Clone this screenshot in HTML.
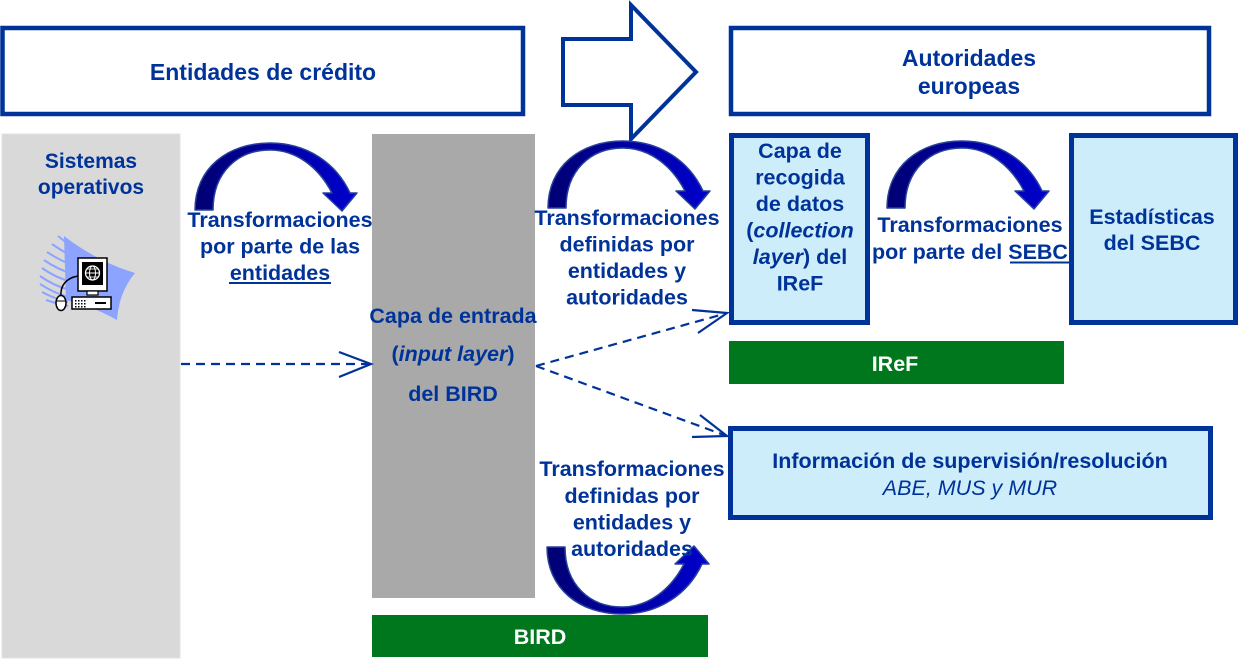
<!DOCTYPE html>
<html>
<head>
<meta charset="utf-8">
<style>
  html, body { margin:0; padding:0; background:#ffffff; }
  body { width:1240px; height:663px; overflow:hidden; }
  svg { display:block; }
  text { font-family: "Liberation Sans", Arial, sans-serif; font-weight:bold; fill:#003399; }
</style>
</head>
<body>
<svg width="1240" height="663" viewBox="0 0 1240 663" xmlns="http://www.w3.org/2000/svg">
  <defs>
    <linearGradient id="ag" x1="0" y1="0" x2="1" y2="0">
      <stop offset="0" stop-color="#000072"/>
      <stop offset="0.5" stop-color="#0000a4"/>
      <stop offset="1" stop-color="#0000cc"/>
    </linearGradient>
  </defs>

  <!-- Top boxes -->
  <rect x="2.5" y="28" width="520.5" height="86" fill="#ffffff" stroke="#003399" stroke-width="4.5"/>
  <text x="263" y="80" font-size="23" text-anchor="middle">Entidades de crédito</text>

  <polygon points="563,39 631,39 631,5 696,72 631,139 631,105 563,105" fill="#ffffff" stroke="#003399" stroke-width="4"/>

  <rect x="731" y="28" width="478" height="86" fill="#ffffff" stroke="#003399" stroke-width="4.5"/>
  <text x="969" y="66" font-size="23" text-anchor="middle">Autoridades</text>
  <text x="969" y="94" font-size="23" text-anchor="middle">europeas</text>

  <!-- Grey panels -->
  <rect x="2" y="134" width="178" height="524" fill="#d9d9d9" stroke="#e2e2e2" stroke-width="1"/>
  <text x="91" y="168" font-size="21" text-anchor="middle">Sistemas</text>
  <text x="91" y="194" font-size="21" text-anchor="middle">operativos</text>

  <rect x="372" y="134" width="163" height="464" fill="#a9a9a9"/>

  <!-- Computer icon -->
  <g>
    <path d="M64,236 Q98,262 135,273 Q119,292 117,320 Q92,306 66,300 Z" fill="#8ca4ff"/>
    <g stroke="#8ca4ff" stroke-width="2" fill="none">
      <path d="M58,236 Q70,246 80,250"/>
      <path d="M52,244 Q66,254 78,258"/>
      <path d="M47,252 Q62,262 76,266"/>
      <path d="M44,260 Q58,270 74,274"/>
      <path d="M42,268 Q56,278 72,282"/>
      <path d="M40,276 Q54,286 70,290"/>
      <path d="M40,284 Q54,293 68,297"/>
      <path d="M42,292 Q55,299 68,302"/>
      <path d="M46,300 Q58,304 68,306"/>
    </g>
    <path d="M78,276 C66,278 60,286 61,296" stroke="#000" stroke-width="1.5" fill="none"/>
    <rect x="78" y="258" width="29" height="33" fill="#ffffff" stroke="#000" stroke-width="1.5"/>
    <rect x="82" y="262" width="21" height="23" fill="#000"/>
    <circle cx="92.5" cy="273" r="7" fill="none" stroke="#fff" stroke-width="1.3"/>
    <ellipse cx="92.5" cy="273" rx="3" ry="7" fill="none" stroke="#fff" stroke-width="1"/>
    <line x1="85.5" y1="273" x2="99.5" y2="273" stroke="#fff" stroke-width="1"/>
    <line x1="87" y1="269" x2="98" y2="269" stroke="#fff" stroke-width="0.8"/>
    <line x1="87" y1="277" x2="98" y2="277" stroke="#fff" stroke-width="0.8"/>
    <rect x="87" y="291" width="11" height="4" fill="#ffffff" stroke="#000" stroke-width="1.2"/>
    <rect x="72" y="297" width="39" height="12" fill="#ffffff" stroke="#000" stroke-width="1.5"/>
    <g fill="#000">
      <rect x="75" y="300" width="1.5" height="1.5"/><rect x="78" y="300" width="1.5" height="1.5"/><rect x="81" y="300" width="1.5" height="1.5"/><rect x="84" y="300" width="1.5" height="1.5"/>
      <rect x="75" y="303" width="1.5" height="1.5"/><rect x="78" y="303" width="1.5" height="1.5"/><rect x="81" y="303" width="1.5" height="1.5"/><rect x="84" y="303" width="1.5" height="1.5"/>
      <rect x="75" y="306" width="1.5" height="1.5"/><rect x="78" y="306" width="1.5" height="1.5"/><rect x="81" y="306" width="1.5" height="1.5"/><rect x="84" y="306" width="1.5" height="1.5"/>
      <rect x="95" y="302" width="11" height="2"/>
    </g>
    <ellipse cx="61" cy="303" rx="5" ry="7.5" fill="#ffffff" stroke="#000" stroke-width="1.5"/>
    <line x1="56" y1="301" x2="66" y2="301" stroke="#000" stroke-width="1"/>
  </g>

  <!-- Curved arrows -->
  <g id="arc1">
    <path d="M195,210 C195,168 228,143 270,143 C307,143 336,163 350,193 L357,193 L342,211 L323,193 L332,193 C319,168 297,150 270,150 C238,150 213,172 213,210 Z" fill="url(#ag)" stroke="#26419a" stroke-width="1.5" stroke-linejoin="round"/>
  </g>
  <g transform="translate(353,-2)">
    <path d="M195,210 C195,168 228,143 270,143 C307,143 336,163 350,193 L357,193 L342,211 L323,193 L332,193 C319,168 297,150 270,150 C238,150 213,172 213,210 Z" fill="url(#ag)" stroke="#26419a" stroke-width="1.5" stroke-linejoin="round"/>
  </g>
  <g transform="translate(692,-2)">
    <path d="M195,210 C195,168 228,143 270,143 C307,143 336,163 350,193 L357,193 L342,211 L323,193 L332,193 C319,168 297,150 270,150 C238,150 213,172 213,210 Z" fill="url(#ag)" stroke="#26419a" stroke-width="1.5" stroke-linejoin="round"/>
  </g>

  <!-- Labels for transformations -->
  <text x="280" y="227" font-size="21.5" text-anchor="middle">Transformaciones</text>
  <text x="280" y="253.5" font-size="21.5" text-anchor="middle">por parte de las</text>
  <text x="280" y="280" font-size="21.5" text-anchor="middle">entidades</text>
  <rect x="229" y="282" width="102" height="2" fill="#003399"/>

  <text x="627" y="225" font-size="21.5" text-anchor="middle">Transformaciones</text>
  <text x="627" y="251.5" font-size="21.5" text-anchor="middle">definidas por</text>
  <text x="627" y="278" font-size="21.5" text-anchor="middle">entidades y</text>
  <text x="627" y="304.5" font-size="21.5" text-anchor="middle">autoridades</text>

  <text x="970" y="232" font-size="21.5" text-anchor="middle">Transformaciones</text>
  <text x="970" y="259" font-size="21.5" text-anchor="middle">por parte del SEBC</text>
  <rect x="1010" y="261.5" width="60" height="2" fill="#003399"/>

  <!-- Capa de entrada text -->
  <text x="453" y="323" font-size="21.5" text-anchor="middle">Capa de entrada</text>
  <text x="453" y="361" font-size="21.5" text-anchor="middle">(<tspan font-style="italic">input layer</tspan>)</text>
  <text x="453" y="401" font-size="21.5" text-anchor="middle">del BIRD</text>

  <!-- Right boxes -->
  <rect x="731.5" y="135.5" width="136" height="187" fill="#cdedfa" stroke="#003399" stroke-width="5"/>
  <text x="800" y="158" font-size="21.5" text-anchor="middle">Capa de</text>
  <text x="800" y="184.5" font-size="21.5" text-anchor="middle">recogida</text>
  <text x="800" y="211" font-size="21.5" text-anchor="middle">de datos</text>
  <text x="800" y="237.5" font-size="21.5" text-anchor="middle">(<tspan font-style="italic">collection</tspan></text>
  <text x="800" y="264" font-size="21.5" text-anchor="middle"><tspan font-style="italic">layer</tspan>) del</text>
  <text x="800" y="290.5" font-size="21.5" text-anchor="middle">IReF</text>

  <rect x="1071.5" y="135.5" width="164" height="187" fill="#cdedfa" stroke="#003399" stroke-width="5"/>
  <text x="1152" y="224" font-size="21.5" text-anchor="middle">Estadísticas</text>
  <text x="1152" y="250" font-size="21.5" text-anchor="middle">del SEBC</text>

  <rect x="729" y="341" width="335" height="43" fill="#00771c"/>
  <text x="895" y="371" font-size="21.5" text-anchor="middle" style="fill:#ffffff">IReF</text>

  <rect x="730.5" y="428.5" width="480" height="89" fill="#cdedfa" stroke="#003399" stroke-width="5"/>
  <text x="970" y="468" font-size="21.5" text-anchor="middle">Información de supervisión/resolución</text>
  <text x="970" y="495" font-size="21.5" text-anchor="middle" font-style="italic" style="font-weight:normal">ABE, MUS y MUR</text>

  <!-- Dashed arrows -->
  <g stroke="#003399" stroke-width="2.2" fill="none">
    <line x1="181" y1="364" x2="369" y2="364" stroke-dasharray="9 6"/>
    <polyline points="339,352 371,364 339,377"/>
    <line x1="536" y1="366" x2="724" y2="314" stroke-dasharray="9 6"/>
    <polyline points="692,310 727,313 698,333"/>
    <line x1="536" y1="366" x2="724" y2="435" stroke-dasharray="9 6"/>
    <polyline points="700,415 727,436 692,437"/>
  </g>

  <!-- Bottom U arrow and label -->
  <g transform="translate(352,757) scale(1,-1)">
    <path d="M195,210 C195,168 228,143 270,143 C307,143 336,163 350,193 L357,193 L342,211 L323,193 L332,193 C319,168 297,150 270,150 C238,150 213,172 213,210 Z" fill="url(#ag)" stroke="#26419a" stroke-width="1.5" stroke-linejoin="round"/>
  </g>
  <text x="632" y="476" font-size="21.5" text-anchor="middle">Transformaciones</text>
  <text x="632" y="503" font-size="21.5" text-anchor="middle">definidas por</text>
  <text x="632" y="529.5" font-size="21.5" text-anchor="middle">entidades y</text>
  <text x="632" y="556" font-size="21.5" text-anchor="middle">autoridades</text>

  <rect x="372" y="615" width="336" height="42" fill="#00771c"/>
  <text x="540" y="644" font-size="21.5" text-anchor="middle" style="fill:#ffffff">BIRD</text>
</svg>
</body>
</html>
